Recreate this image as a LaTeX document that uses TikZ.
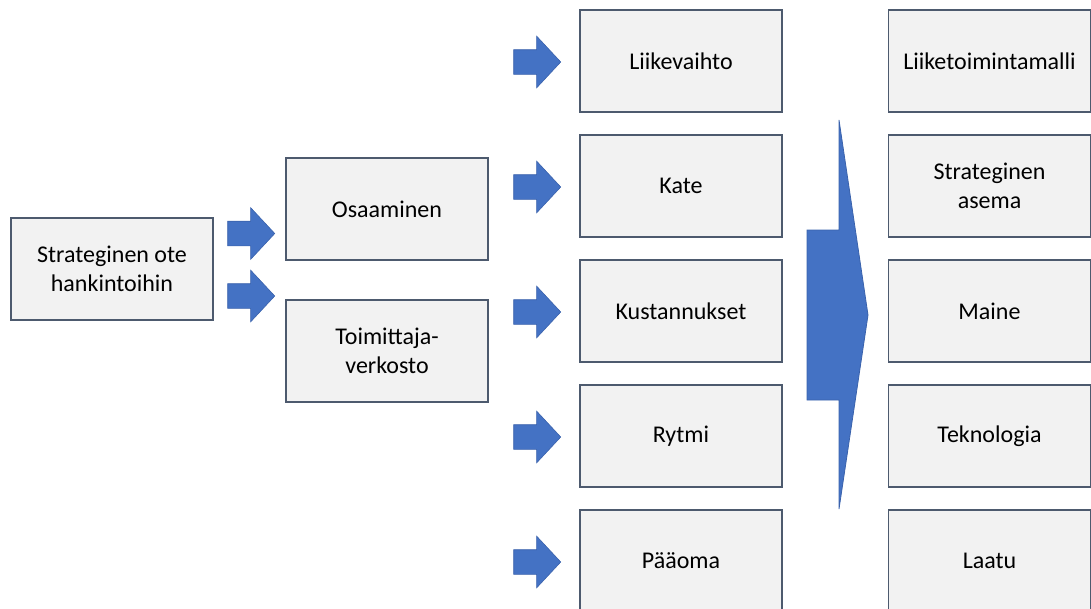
\documentclass[tikz,border=0pt]{standalone}
\usepackage{fontspec}
\setmainfont{Carlito}
\usetikzlibrary{shapes.arrows}
\definecolor{boxfill}{HTML}{F2F2F2}
\definecolor{boxline}{HTML}{4D5A6E}
\definecolor{arrfill}{HTML}{4472C4}
\definecolor{arrline}{HTML}{3A62AC}
\tikzset{
  card/.style={draw=boxline, line width=1.5pt, fill=boxfill, minimum width=202pt,
    minimum height=102pt, align=center, font=\fontsize{24}{29}\selectfont},
  blkarrow/.style={single arrow, draw=arrline, line width=0.6pt, fill=arrfill,
    inner xsep=0pt, inner ysep=12pt, minimum height=47pt,
    single arrow head extend=13.5pt, single arrow tip angle=94},
}
\begin{document}
\begin{tikzpicture}[x=1pt,y=-1pt]
\useasboundingbox (0,0) rectangle (1091,608);
% left part
\node[card] (ote) at (112,269) {Strateginen ote\\hankintoihin};
\node[card] (osaa) at (387,209) {Osaaminen};
\node[card] (toim) at (387,351) {Toimittaja-\\verkosto};
\node[blkarrow] (a1) at (245.5,233.5) {};
\node[blkarrow] (a2) at (245.5,296) {};
% middle column with arrows
\foreach \y/\nm/\txt in {61/liike/Liikevaihto,186/kate/Kate,311/kust/Kustannukset,436/rytmi/Rytmi,561/paa/Pääoma} {
  \node[card] (\nm) at (681,\y) {\txt};
  \node[blkarrow] (arr-\nm) at (531.5,\y+1) {};
}
% big arrow
\draw[draw=arrline, line width=0.8pt, fill=arrfill]
  (839,120) -- (839,230) -- (807,230) -- (807,400) -- (839,400) -- (839,509) -- (868,315) -- cycle;
% right column
\foreach \y/\nm/\txt in {61/malli/Liiketoimintamalli,186/asema/Strateginen\\asema,311/maine/Maine,436/tekno/Teknologia,561/laatu/Laatu}
  \node[card] (\nm) at (989.5,\y) {\txt};
\end{tikzpicture}
\end{document}
